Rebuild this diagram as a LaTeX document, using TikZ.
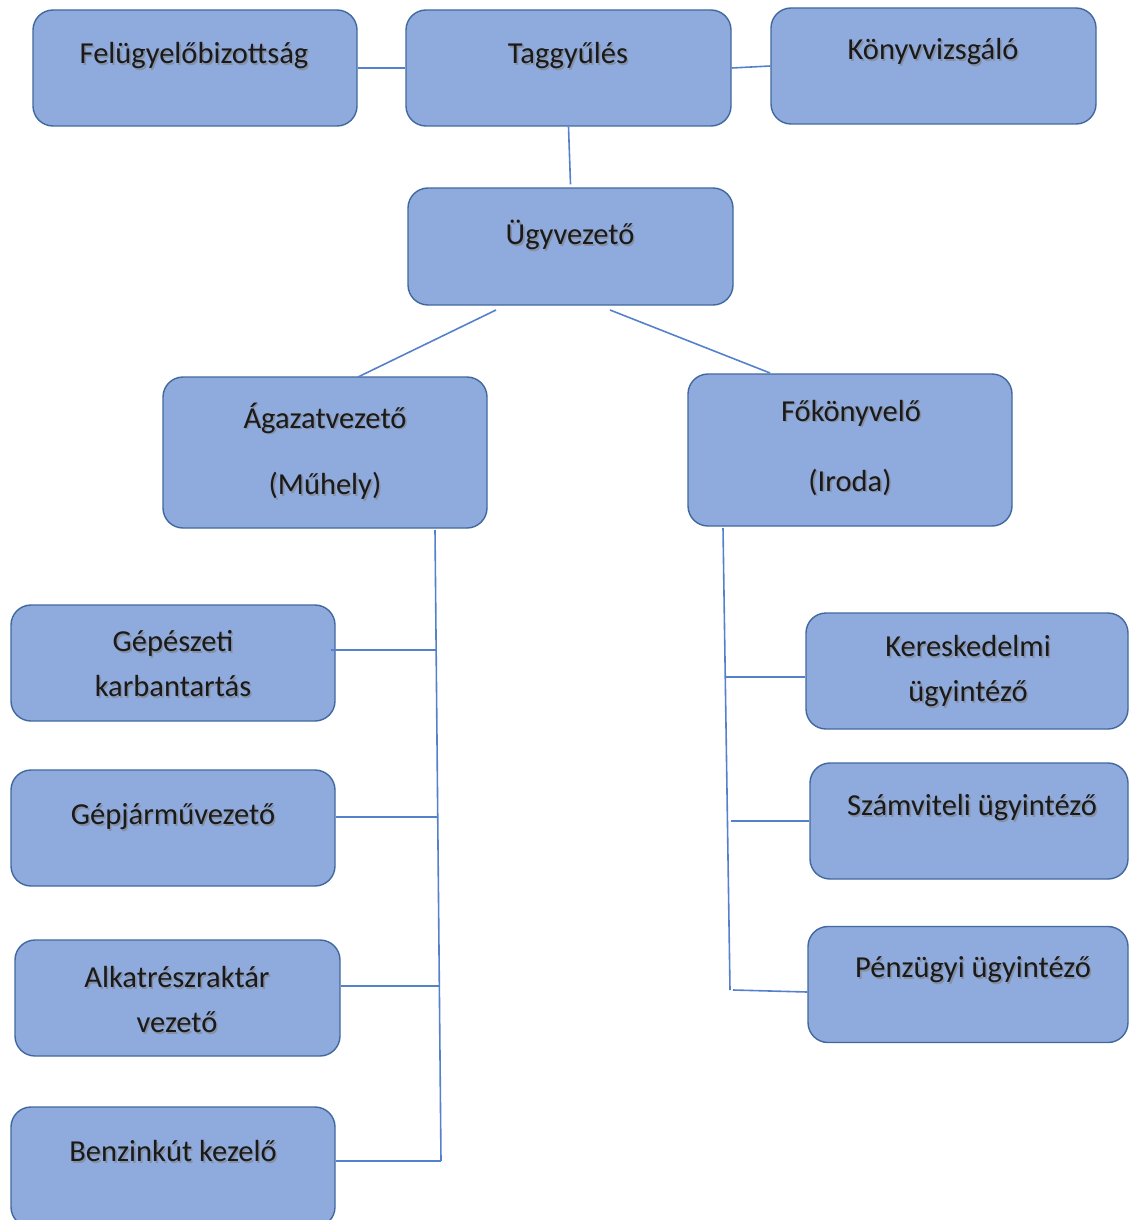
\documentclass[tikz,border=0pt]{standalone}
\usepackage{fontspec}
\setmainfont{Carlito}
\definecolor{boxfill}{HTML}{8FAADC}
\definecolor{boxline}{HTML}{41689F}
\definecolor{connc}{HTML}{5581CC}
\definecolor{txt}{HTML}{1A1A1A}
\tikzset{
  box/.style={draw=boxline, fill=boxfill, line width=1.4pt, rounded corners=20pt,
    minimum width=324pt, minimum height=116pt, inner sep=0pt},
  lbl/.style={font=\fontsize{30.5}{45}\selectfont, text=txt, align=center, inner sep=0pt},
  shd/.style={lbl, text=black!50, opacity=.6},
  conn/.style={draw=connc, line width=1.6pt},
}
\newcommand\lab[4]{%
  \node[shd] at (#2+1.6,#3+1.6) {#4};
  \node[lbl] (#1) at (#2,#3) {#4};}
\begin{document}
\begin{tikzpicture}[x=1pt,y=-1pt]
\useasboundingbox (0,0) rectangle (1129,1220);
\clip (0,0) rectangle (1129,1220);
% connector end points
\coordinate (ua1) at (496,310); \coordinate (ua2) at (358,377);
\coordinate (uf1) at (610,310); \coordinate (uf2) at (770,373);
\coordinate (lt) at (435,530); \coordinate (lb) at (441,1161);
\coordinate (l1) at (436,650); \coordinate (l2) at (438,817);
\coordinate (l3) at (439,986);
\coordinate (rt) at (723,528); \coordinate (rb) at (730,990);
\coordinate (r1) at (726,677); \coordinate (r2) at (731,821);
\coordinate (r3) at (733,990);
% boxes
\node[box] (F) at (195,68) {};
\node[box, minimum width=325pt] (T) at (568.5,68) {};
\node[box, minimum width=325pt] (K) at (933.5,66) {};
\node[box, minimum width=325pt, minimum height=117pt] (U) at (570.5,246.5) {};
\node[box, minimum height=151pt] (A) at (325,452.5) {};
\node[box, minimum height=152pt] (Fo) at (850,450) {};
\node[box] (G1) at (173,663) {};
\node[box] (G2) at (173,828) {};
\node[box, minimum width=325pt] (Al) at (177.5,998) {};
\node[box, minimum height=120pt] (B) at (173,1167) {};
\node[box, minimum width=322pt] (Ke) at (967,671) {};
\node[box, minimum width=318pt] (Sz) at (969,821) {};
\node[box, minimum width=320pt] (P) at (968,984.5) {};
% lines
\draw[conn] (F.east) -- (T.west);
\draw[conn] (T.east) -- (K.west);
\draw[conn] (T.south) -- ([yshift=3pt]U.north);
\draw[conn] (ua1) -- (ua2);
\draw[conn] (uf1) -- (uf2);
\draw[conn] (lt) -- (lb);
\draw[conn] ([xshift=-5pt]G1.east |- l1) -- (l1);
\draw[conn] (G2.east |- l2) -- (l2);
\draw[conn] (Al.east |- l3) -- (l3);
\draw[conn] (B.east |- lb) -- (lb);
\draw[conn] (rt) -- (rb);
\draw[conn] (r1) -- (Ke.west |- r1);
\draw[conn] (r2) -- (Sz.west |- r2);
\draw[conn] (r3) -- (P.west |- 0,992);
% labels
\lab{tF}{194}{56}{Felügyelőbizottság}
\lab{tT}{568}{56}{Taggyűlés}
\lab{tK}{933}{52}{Könyvvizsgáló}
\lab{tU}{570}{235}{Ügyvezető}
\lab{tA1}{325}{418}{Ágazatvezető}
\lab{tA2}{325}{486}{(Műhely)}
\lab{tFo1}{851}{413}{Főkönyvelő}
\lab{tFo2}{850}{482}{(Iroda)}
\lab{tG1}{173}{664}{Gépészeti\\karbantartás}
\lab{tG2}{173}{817}{Gépjárművezető}
\lab{tAl}{177}{1000}{Alkatrészraktár\\vezető}
\lab{tB}{173}{1151}{Benzinkút kezelő}
\lab{tKe}{968}{671}{Kereskedelmi\\ügyintéző}
\lab{tSz}{972}{808}{Számviteli ügyintéző}
\lab{tP}{973}{970}{Pénzügyi ügyintéző}
\end{tikzpicture}
\end{document}
